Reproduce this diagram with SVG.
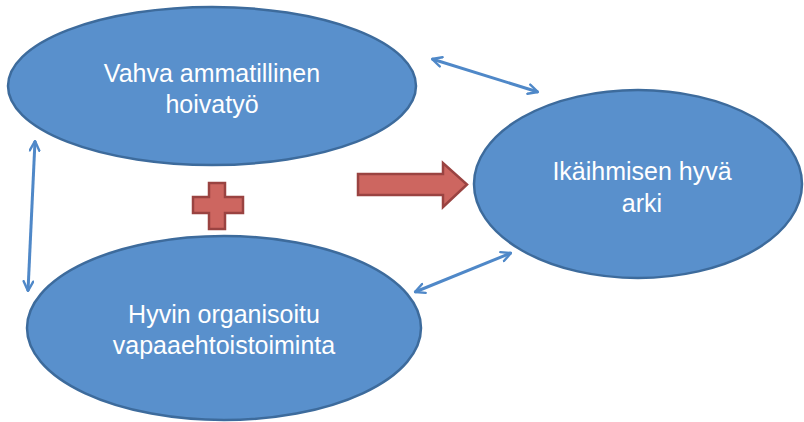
<svg xmlns="http://www.w3.org/2000/svg" width="804" height="422" viewBox="0 0 804 422">
<style>
.node{fill:#5990cc;stroke:#3d6b9c;stroke-width:2.5}
.lbl{font-family:"Liberation Sans",Arial,sans-serif;font-size:25px;fill:#ffffff;text-anchor:middle}
.link{stroke:#4f88c8;stroke-width:3;fill:none;marker-start:url(#ah);marker-end:url(#ah)}
.red{fill:#cd6660;stroke:#9a4341;stroke-width:2.5}
</style>
<defs>
<marker id="ah" viewBox="0 0 10 10" refX="9" refY="5" markerWidth="4" markerHeight="4" orient="auto-start-reverse" markerUnits="strokeWidth">
<path d="M1,1 L9,5 L1,9" fill="none" stroke="#4f88c8" stroke-width="2" stroke-linecap="round" stroke-linejoin="round"/>
</marker>
</defs>
<rect width="804" height="422" fill="#ffffff"/>
<g id="connectors">
<line class="link" x1="432" y1="59" x2="538" y2="92"/>
<line class="link" x1="415" y1="292" x2="511" y2="253"/>
<line class="link" x1="35" y1="141" x2="28" y2="291"/>
<path class="red" d="M358,174 H443 V163 L467,184.5 L443,207 V195 H358 Z"/>
<path class="red" d="M209,183 H225 V197 H243 V213 H225 V229 H209 V213 H193 V197 H209 Z"/>
</g>
<g id="node-hoivatyo">
<ellipse class="node" cx="212" cy="86" rx="204" ry="79"/>
<text class="lbl" x="212" y="82">Vahva ammatillinen</text>
<text class="lbl" x="212" y="113">hoivatyö</text>
</g>
<g id="node-arki">
<ellipse class="node" cx="638" cy="184" rx="164" ry="94"/>
<text class="lbl" x="642" y="180">Ikäihmisen hyvä</text>
<text class="lbl" x="642" y="212">arki</text>
</g>
<g id="node-vapaaehtoistoiminta">
<ellipse class="node" cx="224" cy="328" rx="197" ry="92"/>
<text class="lbl" x="224" y="323">Hyvin organisoitu</text>
<text class="lbl" x="224" y="354">vapaaehtoistoiminta</text>
</g>
</svg>
